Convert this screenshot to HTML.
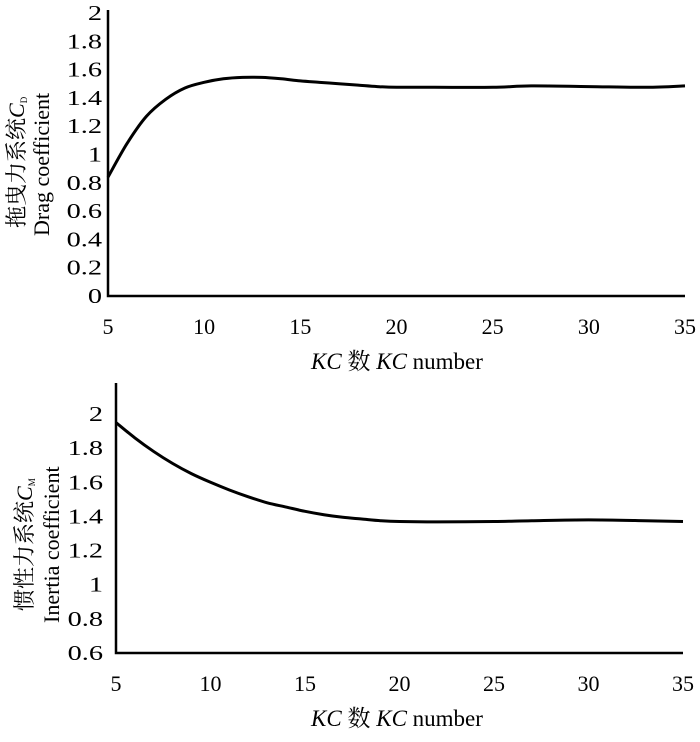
<!DOCTYPE html>
<html><head><meta charset="utf-8"><style>
body{margin:0;background:#fff}
svg text{font-family:"Liberation Serif","Noto Serif CJK SC",serif;fill:#000}
</style></head><body>
<svg id="s" width="700" height="737" xmlns="http://www.w3.org/2000/svg"></svg>
<script>
const kcValues=[5,6,7,8,9,10,11,12,13,14,15,16,17,18,19,20,22,25,27,30,33,35];
const cdValues=[0.84,1.08,1.27,1.39,1.47,1.51,1.535,1.545,1.545,1.535,1.52,1.51,1.50,1.49,1.48,1.475,1.475,1.475,1.485,1.48,1.475,1.485];
const cmValues=[1.95,1.86,1.78,1.71,1.65,1.60,1.555,1.515,1.48,1.455,1.43,1.41,1.395,1.385,1.375,1.37,1.368,1.37,1.375,1.38,1.375,1.37];
const xTicks=[5,10,15,20,25,30,35];
const cdTicks=[0,0.2,0.4,0.6,0.8,1,1.2,1.4,1.6,1.8,2];
const cmTicks=[0.6,0.8,1,1.2,1.4,1.6,1.8,2];
const NS="http://www.w3.org/2000/svg";
const svg=document.getElementById('s');
function mk(tag,attrs,parent){const e=document.createElementNS(NS,tag);for(const k in attrs)e.setAttribute(k,attrs[k]);(parent||svg).appendChild(e);return e;}
function panel(cfg){
  const g=mk('g',{});
  
  
  const xs=v=>cfg.x0+(v-5)/30*(cfg.x1-cfg.x0);
  const ys=v=>cfg.yb+(v-cfg.ymin)/(cfg.ymax-cfg.ymin)*(cfg.yt-cfg.yb);
  const ax=mk('path',{d:`M${cfg.x0},${cfg.axTop}V${cfg.yb}H${cfg.x1}`,fill:'none',stroke:'#000','stroke-width':2.5},g);
  
  
  cfg.yTicks.forEach(t=>{const e=mk('text',{transform:`translate(${cfg.x0-cfg.tickGap},${ys(t)+7}) scale(1.35,1)`,'text-anchor':'end','font-size':21},g);e.textContent=String(t);
    
    });
  xTicks.forEach(t=>{const e=mk('text',{x:xs(t),y:cfg.yb+38,'text-anchor':'middle','font-size':22},g);e.textContent=String(t);
    
    });
  const xt=mk('text',{x:397,y:cfg.yb+73,'text-anchor':'middle','font-size':23},g);
  xt.innerHTML='<tspan font-style="italic">KC</tspan> 数 <tspan font-style="italic">KC</tspan> number';
  
  
  const y1=mk('text',{transform:`translate(${cfg.tx1},${cfg.ty1}) rotate(-90)`,'text-anchor':'start','font-size':22},g);
  y1.innerHTML=`${cfg.t1}<tspan font-style="italic">C</tspan><tspan font-size="9" dy="3">${cfg.sub}</tspan>`;
  
  
  const y2=mk('text',{transform:`translate(${cfg.tx2},${cfg.ty2}) rotate(-90)`,'text-anchor':'start','font-size':22},g);
  y2.textContent=cfg.t2;
  
  
  const p=kcValues.map((k,i)=>[xs(k),ys(cfg.vals[i])]);
  let d=`M${p[0][0]},${p[0][1]}`;
  for(let i=0;i<p.length-1;i++){const a=p[i-1]||p[i],b=p[i],c=p[i+1],e=p[i+2]||c;
    d+=`C${b[0]+(c[0]-a[0])/6},${b[1]+(c[1]-a[1])/6} ${c[0]-(e[0]-b[0])/6},${c[1]-(e[1]-b[1])/6} ${c[0]},${c[1]}`;}
  const ln=mk('path',{d:d,fill:'none',stroke:'#000','stroke-width':3},g);
  
  
}
panel({name:'drag-coefficient-chart',x0:108,x1:685,yb:296,yt:13,ymin:0,ymax:2,axTop:10,yTicks:cdTicks,vals:cdValues,tickGap:6,
  tx1:24,ty1:228,tx2:49,ty2:236,t1:'拖曳力系统',sub:'D',t2:'Drag coefficient',lineName:'cd-line'});
panel({name:'inertia-coefficient-chart',x0:116,x1:683,yb:653,yt:414,ymin:0.6,ymax:2,axTop:383,yTicks:cmTicks,vals:cmValues,tickGap:13,
  tx1:32,ty1:611,tx2:59,ty2:623,t1:'惯性力系统',sub:'M',t2:'Inertia coefficient',lineName:'cm-line'});
</script>
</body></html>
